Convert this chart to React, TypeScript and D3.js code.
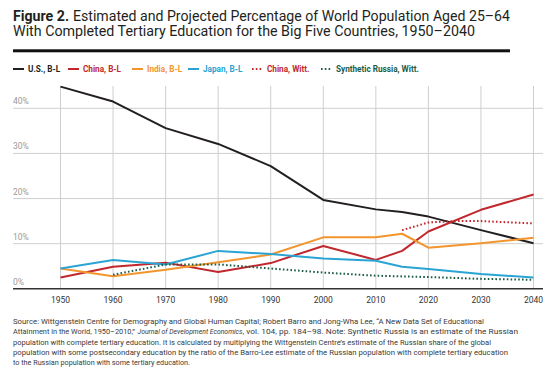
import React from "react";
import * as d3 from "d3";

// Barro-Lee / Wittgenstein estimates, share of world pop. 25-64 with completed tertiary (%)
const years = [1950, 1960, 1970, 1980, 1990, 2000, 2010, 2015, 2020, 2030, 2040];
const usBL = [44.8, 41.5, 35.6, 32.1, 27.2, 19.7, 17.6, 17.0, 16.0, 13.0, 10.1];
const chinaBL = [2.5, 4.9, 5.8, 3.7, 5.7, 9.5, 6.4, 8.4, 12.7, 17.5, 20.9];
const indiaBL = [4.5, 2.8, 4.2, 5.9, 7.6, 11.4, 11.4, 12.2, 9.1, 10.1, 11.3];
const japanBL = [4.5, 6.4, 5.4, 8.4, 7.7, 6.7, 6.2, 4.9, 4.4, 3.3, 2.5];

const wittYears = [2015, 2020, 2025, 2030, 2040];
const chinaWitt = [13.0, 14.7, 15.0, 15.0, 14.5];

const russiaYears = [1960, 1970, 1980, 1990, 2000, 2010, 2020, 2030, 2040];
const russiaWitt = [3.1, 5.4, 5.4, 4.5, 3.6, 2.9, 2.6, 2.2, 2.0];

const xTicks = [1950, 1960, 1970, 1980, 1990, 2000, 2010, 2020, 2030, 2040];
const yTicks = [0, 10, 20, 30, 40];

const sourceLines = [
  "Source: Wittgenstein Centre for Demography and Global Human Capital; Robert Barro and Jong-Wha Lee, “A New Data Set of Educational",
  "population with complete tertiary education. It is calculated by multiplying the Wittgenstein Centre’s estimate of the Russian share of the global",
  "population with some postsecondary education by the ratio of the Barro-Lee estimate of the Russian population with complete tertiary education",
  "to the Russian population with some tertiary education.",
];
// where each note line ends in the original
const sourceWidths = [471, 478, 495, 177];
// the second note line, split around the italic journal name: [text, x start, width, italic]
const sourceLine2: [string, number, number, boolean][] = [
  ["Attainment in the World, 1950–2010,”", 13, 122, false],
  ["Journal of Development Economics", 137.5, 105, true],
  [", vol. 104, pp. 184–98. Note: Synthetic Russia is an estimate of the Russian", 242.5, 275.5, false],
];

const RED = "#c1272d";
const series = [
  { name: "U.S., B-L", xs: years, ys: usBL, color: "#231f20", dash: null, text: "#231f20" },
  { name: "China, B-L", xs: years, ys: chinaBL, color: RED, dash: null, text: RED },
  { name: "India, B-L", xs: years, ys: indiaBL, color: "#f3952d", dash: null, text: "#f3952d" },
  { name: "Japan, B-L", xs: years, ys: japanBL, color: "#29a4d3", dash: null, text: "#29a4d3" },
  { name: "China, Witt.", xs: wittYears, ys: chinaWitt, color: RED, dash: "1.6,2.2", text: RED },
  { name: "Synthetic Russia, Witt.", xs: russiaYears, ys: russiaWitt, color: "#1d5c45", dash: "1.6,2.2", text: "#1d5c45" },
];
// legend swatch x positions
const legendX = [13, 68, 132, 188, 252, 321];

const W = 554;
const H = 369;
const FONT = "Roboto, 'Noto Sans', sans-serif";

const App: React.FC = () => {
  const x = d3.scaleLinear().domain([1950, 2040]).range([60.5, 533.5]);
  const y = d3.scaleLinear().domain([0, 40]).range([288.8, 108.3]);

  const line = (xs: number[], ys: number[]) =>
    d3.line<number>().x((_, i) => x(xs[i])).y(d => y(d))(ys) || "";

  return (
    <svg width={W} height={H} style={{ position: "absolute", left: 0, top: 0, background: "#fff" }} fontFamily={FONT}>
      {/* title */}
      <text x={13} y={20.5} fontSize={14} fill="#231f20" fontWeight="bold" textLength={56} lengthAdjust="spacingAndGlyphs">Figure 2.</text>
      <text x={73} y={20.5} fontSize={14} fill="#231f20" textLength={437} lengthAdjust="spacingAndGlyphs">
        Estimated and Projected Percentage of World Population Aged 25–64
      </text>
      <text x={13} y={35.5} fontSize={14} fill="#231f20" textLength={462} lengthAdjust="spacingAndGlyphs">
        With Completed Tertiary Education for the Big Five Countries, 1950–2040
      </text>
      <rect x={13} y={49.3} width={497} height={3} fill="#111" />

      {/* legend */}
      {series.map((s, i) => (
        <g key={s.name} transform={`translate(${legendX[i]},69)`}>
          <line x1={0} x2={11} y1={0} y2={0} stroke={s.color} strokeWidth={2} strokeDasharray={s.dash || undefined} />
          <text x={15} y={3} fontSize={8.2} fontWeight="bold" fill={s.text}>{s.name}</text>
        </g>
      ))}

      {/* grid */}
      {yTicks.filter(t => t > 0).map(t => (
        <line key={t} x1={13} x2={543} y1={y(t)} y2={y(t)} stroke="#cfcfcf" strokeWidth={1} />
      ))}
      {xTicks.map(t => (
        <line key={t} x1={x(t)} x2={x(t)} y1={86} y2={y(0)} stroke="#cfcfcf" strokeWidth={1} />
      ))}
      {yTicks.map(t => (
        <text key={t} x={13} y={y(t) - 4} fontSize={8.5} fill="#9a9a9a">{t}%</text>
      ))}

      {/* series */}
      {series.map(s => (
        <path key={s.name} d={line(s.xs, s.ys)} fill="none" stroke={s.color} strokeWidth={2}
          strokeDasharray={s.dash || undefined} strokeLinejoin="round" />
      ))}

      {/* x axis */}
      <line x1={13} x2={543} y1={y(0)} y2={y(0)} stroke="#333" strokeWidth={1.5} />
      {xTicks.map(t => (
        <text key={t} x={x(t)} y={302.5} fontSize={8.5} fill="#333" textAnchor="middle">{t}</text>
      ))}

      {/* source note */}
      <g fontSize={7.5} fill="#3a3a3a">
        <text x={13} y={324} textLength={sourceWidths[0]} lengthAdjust="spacingAndGlyphs">{sourceLines[0]}</text>
        {sourceLine2.map(([t, sx, w, it]) => (
          <text key={t} x={sx} y={334.3} textLength={w} lengthAdjust="spacingAndGlyphs"
            fontStyle={it ? "italic" : undefined}>{t}</text>
        ))}
        <text x={13} y={344.6} textLength={sourceWidths[1]} lengthAdjust="spacingAndGlyphs">{sourceLines[1]}</text>
        <text x={13} y={354.9} textLength={sourceWidths[2]} lengthAdjust="spacingAndGlyphs">{sourceLines[2]}</text>
        <text x={13} y={365.2} textLength={sourceWidths[3]} lengthAdjust="spacingAndGlyphs">{sourceLines[3]}</text>
      </g>
    </svg>
  );
};

export default App;
